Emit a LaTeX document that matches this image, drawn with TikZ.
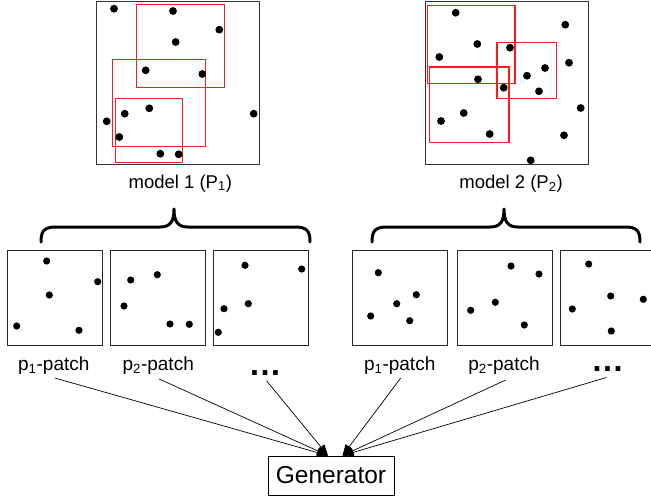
\documentclass[tikz,border=0pt]{standalone}
\usepackage{fontspec}
\setmainfont{Liberation Sans}
\usetikzlibrary{arrows.meta}
\begin{document}
\begin{tikzpicture}[x=1pt,y=-1pt,
  modelbox/.style={draw=black!80, line width=1.1pt, minimum width=163pt, minimum height=163pt, inner sep=0pt},
  redbox/.style={draw=red!90!white, line width=1.1pt},
  patchbox/.style={draw=black!85, line width=0.8pt, minimum width=95pt, minimum height=95pt, inner sep=0pt},
  bracestyle/.style={line width=3pt, line cap=round, line join=round},
  lbl/.style={font=\fontsize{19}{21}\selectfont, anchor=base, inner sep=0pt},
  mlbl/.style={font=\fontsize{18.5}{20}\selectfont, anchor=base, inner sep=0pt},
  dotslbl/.style={font=\fontsize{33}{35}\selectfont\bfseries, anchor=base, inner sep=0pt},
  arr/.style={line width=0.7pt, -{Triangle[length=11pt,width=8.5pt]}}
]
\useasboundingbox (0,0) rectangle (651,499);

% model boxes
\node[modelbox] (m1) at (178,83) {};
\node[modelbox] (m2) at (507,83.2) {};

% red windows model 1
\draw[redbox] (136.3,4.3) rectangle (224.3,87.3);
\draw[redbox] (112.7,59.3) rectangle (205.3,146.3);
\draw[redbox] (115.3,98.3) rectangle (182.7,162.3);
% red windows model 2
\draw[redbox] (427.7,5.7) rectangle (515,83.7);
\draw[redbox] (497,42.3) rectangle (556.3,98.3);
\draw[redbox] (429.7,67) rectangle (509,142.3);

% dots model 1
\foreach \p in {(114,8.7),(173,11),(219.3,29.7),(175.7,42),(145.7,70.3),(202.3,74),(149.3,108.3),(124.7,113.7),(106.7,121.3),(253.7,113.7),(119.3,137),(160.3,153.7),(178.7,154.3)}
  \fill \p circle (3.9pt);
% dots model 2
\foreach \p in {(455.7,12.7),(565.3,24.7),(477.3,44),(510,47.7),(439.3,57),(569,62.7),(545,68),(527,75.7),(478,79.3),(503.7,87.7),(539,91.3),(580.7,108),(463.7,113),(441,121),(489.7,134),(564,135.3),(530.7,160.3)}
  \fill \p circle (3.9pt);

% model labels
\node[mlbl] (ml1) at (180.3,188) {model 1 (P\textsubscript{1})};
\node[mlbl] (ml2) at (511,188) {model 2 (P\textsubscript{2})};

% braces
\draw[bracestyle] (41,242) .. controls (41,231) and (44,227) .. (56,227) -- (160,227) .. controls (170,227) and (174,222) .. (174,209) .. controls (174,222) and (178,227) .. (188,227) -- (295,227) .. controls (307,227) and (310,231) .. (310,242);
\draw[bracestyle] (372,242) .. controls (372,231) and (375,227) .. (387,227) -- (490,227) .. controls (500,227) and (504,222) .. (504,209) .. controls (504,222) and (508,227) .. (518,227) -- (625,227) .. controls (637,227) and (640,231) .. (640,242);

% patch boxes
\node[patchbox] (pa) at (54.8,298.2) {};
\node[patchbox] (pb) at (157.8,298.2) {};
\node[patchbox] (pc) at (260.8,298.2) {};
\node[patchbox] (pd) at (399.8,297.9) {};
\node[patchbox] (pe) at (505,297.9) {};
\node[patchbox] (pf) at (607.5,297.9) {};

% patch dots
\foreach \p in {(46.7,261),(97.7,281.7),(49.3,295),(16.7,326),(79,330.3),
  (130.7,280),(157.3,274.7),(124,306),(170,324),(189.3,324.3),
  (245,265.3),(301.7,269),(224,308.7),(248.3,303.7),(218.3,332.3),
  (378.3,272.7),(416.3,294.7),(396.7,303.7),(370.7,316),(409.7,320.7),
  (511,266),(539,274),(495.3,302.3),(470.7,310.3),(524.3,325),
  (588.7,264),(610.7,296),(643.3,299.3),(572.3,309),(611.3,331)}
  \fill \p circle (3.6pt);

% patch labels
\node[lbl] (l1) at (53.8,370) {p\textsubscript{1}-patch};
\node[lbl] (l2) at (158.2,370) {p\textsubscript{2}-patch};
\node[dotslbl] (l3) at (265,375) {…};
\node[lbl] (l4) at (399.7,370) {p\textsubscript{1}-patch};
\node[lbl] (l5) at (504,370) {p\textsubscript{2}-patch};
\node[dotslbl] (l6) at (607.5,371.5) {…};

% generator
\node[draw, line width=0.9pt, minimum width=126pt, minimum height=39pt, inner sep=0pt, font=\fontsize{24.5}{26}\selectfont] (gen) at (331,475.5) {Generator};
\coordinate (gl) at ([xshift=-3pt]gen.north);
\coordinate (gr) at ([xshift=11.5pt]gen.north);

% connectors
\draw[arr] ([xshift=1pt,yshift=-8pt]l1.base) -- (gl);
\draw[arr] ([xshift=1pt,yshift=-9pt]l2.base) -- (gl);
\draw[arr] ([xshift=1.7pt,yshift=-6pt]l3.base) -- (gl);
\draw[arr] ([xshift=1pt,yshift=-8pt]l4.base) -- (gr);
\draw[arr] ([xshift=1.7pt,yshift=-10pt]l5.base) -- (gr);
\draw[arr] ([xshift=-1pt,yshift=-6pt]l6.base) -- (gr);
\end{tikzpicture}
\end{document}
